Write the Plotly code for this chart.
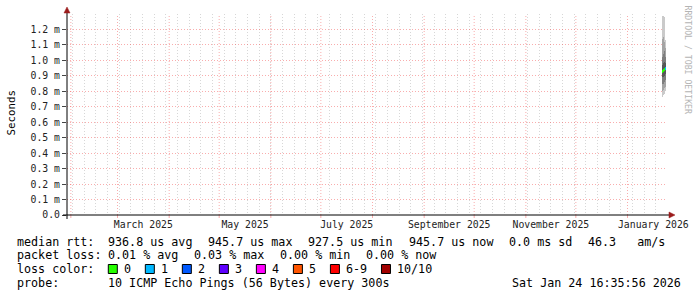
import calendar
from datetime import datetime, timedelta
import plotly.graph_objects as go

# ---------------- data ----------------
end_time = "2026-01-24 16:35:56"
span_days = 360

times = ["2026-01-21 23:45", "2026-01-22 14:10", "2026-01-23 04:35", "2026-01-23 19:00"]
pings = [
    [0.765, 0.800, 0.845, 0.890, 0.920, 0.935, 0.970, 1.020, 1.140, 1.290],
    [0.775, 0.810, 0.850, 0.895, 0.925, 0.943, 0.980, 1.040, 1.150, 1.290],
    [0.785, 0.820, 0.860, 0.900, 0.930, 0.950, 0.990, 1.060, 1.120, 1.280],
    [0.800, 0.830, 0.870, 0.910, 0.940, 0.9514, 0.980, 1.020, 1.080, 1.130],
]
median = [0.9275, 0.9340, 0.9400, 0.9457]
loss_pct = [0.0, 0.0, 0.0, 0.03]

y_ticks = [0.0, 0.1, 0.2, 0.3, 0.4, 0.5, 0.6, 0.7, 0.8, 0.9, 1.0, 1.1, 1.2]
y_tick_text = ["0.0", "0.1 m", "0.2 m", "0.3 m", "0.4 m", "0.5 m", "0.6 m",
               "0.7 m", "0.8 m", "0.9 m", "1.0 m", "1.1 m", "1.2 m"]
label_months = [(2025, 3), (2025, 5), (2025, 7), (2025, 9), (2025, 11), (2026, 1)]
label_text = ["March 2025", "May 2025", "July 2025", "September 2025",
              "November 2025", "January 2026"]

loss_thresholds = [0, 1, 2, 3, 4, 5, 9, 10]
loss_labels = ["0", "1", "2", "3", "4", "5", "6-9", "10/10"]
loss_colors = ["#26ff00", "#00b8ff", "#0059ff", "#5e00ff", "#ff00fe", "#ff5500", "#ff0000", "#a10000"]
n_pings = 10

legend_rows = [
    ["median rtt:", "936.8 us avg", "945.7 us max", "927.5 us min", "945.7 us now", "0.0 ms sd", "46.3   am/s"],
    ["packet loss:", "0.01 % avg", "0.03 % max", "0.00 % min", "0.00 % now"],
]
probe_text = ["probe:", "10 ICMP Echo Pings (56 Bytes) every 300s"]
stamp_text = "Sat Jan 24 16:35:56 2026"

# ---------------- geometry ----------------
W, H = 697, 297
L, R, T, B = 67, 30, 14, 82
PW, PH = W - L - R, H - T - B


def X(px):
    return (px - L) / PW


def Y(py):
    return (T + PH - py) / PH


t_end = datetime.strptime(end_time, "%Y-%m-%d %H:%M:%S")
t_start = t_end - timedelta(days=span_days)
ms_per_px = span_days * 86400000 / PW
bar_w = ms_per_px * 1.0

FONT = "DejaVu Sans Mono"
fig = go.Figure()

# smoke
for k in range(n_pings // 2):
    g = int(190 / (n_pings // 2) * ((n_pings // 2) - (k + 1))) + 50
    col = "#%02x%02x%02x" % (g, g, g)
    fig.add_trace(go.Bar(
        x=times,
        base=[p[k] for p in pings],
        y=[p[n_pings - 1 - k] - p[k] for p in pings],
        width=[bar_w] * len(times),
        marker=dict(color=col, line=dict(width=0)),
        hoverinfo="skip", showlegend=False,
    ))


def loss_color(pct):
    lp = pct / 100 * n_pings
    prev = -1
    for t, c in zip(loss_thresholds, loss_colors):
        if prev < lp <= t or (t == 0 and lp == 0):
            return c
        prev = t
    return loss_colors[-1]


med_h = 0.018
fig.add_trace(go.Bar(
    x=times,
    base=[m - med_h / 2 for m in median],
    y=[med_h] * len(median),
    width=[bar_w] * len(times),
    marker=dict(color=[loss_color(v) for v in loss_pct], line=dict(width=0)),
    hoverinfo="skip", showlegend=False,
))

# x axis labels at mid-month
label_pos = []
for (yy, mm) in label_months:
    nd = calendar.monthrange(yy, mm)[1]
    label_pos.append(datetime(yy, mm, 1) + timedelta(days=nd / 2))

# weekly minor grid (Sundays)
weeks = []
d = datetime(t_start.year, t_start.month, t_start.day)
while d.weekday() != 6:
    d += timedelta(days=1)
while d <= t_end:
    weeks.append(d)
    d += timedelta(days=7)

# month major grid
months = []
yy, mm = t_start.year, t_start.month
while True:
    mm += 1
    if mm > 12:
        mm, yy = 1, yy + 1
    dt = datetime(yy, mm, 1)
    if dt > t_end:
        break
    months.append(dt)

MGRID = "rgba(240,60,60,0.42)"
GRID = "rgba(150,150,150,0.38)"
AX = "#000000"
ARROW = "#9b1c1c"

shapes = []
for m in months:
    shapes.append(dict(type="line", xref="x", yref="paper", x0=m, x1=m, y0=0, y1=1,
                       line=dict(color=MGRID, width=1, dash="1px,2px"), layer="below"))
    shapes.append(dict(type="line", xref="x", yref="paper", x0=m, x1=m, y0=Y(215), y1=Y(218),
                       line=dict(color=MGRID, width=1), layer="above"))

# axis lines and arrows
shapes.append(dict(type="line", xref="paper", yref="paper", x0=X(63), x1=X(670), y0=Y(215), y1=Y(215),
                   line=dict(color=AX, width=1), layer="above"))
shapes.append(dict(type="line", xref="paper", yref="paper", x0=X(67), x1=X(67), y0=Y(219), y1=Y(10),
                   line=dict(color=AX, width=1), layer="above"))
shapes.append(dict(type="path", xref="paper", yref="paper",
                   path="M %f %f L %f %f L %f %f Z" % (X(669), Y(212), X(675), Y(215), X(669), Y(218)),
                   fillcolor=ARROW, line=dict(color=ARROW, width=0.5), layer="above"))
shapes.append(dict(type="path", xref="paper", yref="paper",
                   path="M %f %f L %f %f L %f %f Z" % (X(64), Y(13), X(67), Y(7), X(70), Y(13)),
                   fillcolor=ARROW, line=dict(color=ARROW, width=0.5), layer="above"))

annotations = []
LEG = 11.7
row_x = [[16, 107.3, 207.3, 307.3, 407.5, 507.5, 586.5],
         [16, 107.3, 193.2, 279.1, 365.0]]
row_y = [241.7, 255.0]
for r, items in enumerate(legend_rows):
    for txt, px in zip(items, row_x[r]):
        annotations.append(dict(text=txt, xref="paper", yref="paper", x=X(px - 1), y=Y(row_y[r]),
                                xanchor="left", yanchor="middle", showarrow=False,
                                font=dict(family=FONT, size=LEG, color="#000")))

# loss color row
annotations.append(dict(text="loss color:", xref="paper", yref="paper", x=X(15), y=Y(269),
                        xanchor="left", yanchor="middle", showarrow=False,
                        font=dict(family=FONT, size=LEG, color="#000")))
bx = 108.3
for lab, col in zip(loss_labels, loss_colors):
    shapes.append(dict(type="rect", xref="paper", yref="paper", x0=X(bx), x1=X(bx + 9),
                       y0=Y(264.5), y1=Y(273.5), fillcolor=col, line=dict(color="#000", width=1),
                       layer="above"))
    annotations.append(dict(text=lab, xref="paper", yref="paper", x=X(bx + 14), y=Y(269),
                            xanchor="left", yanchor="middle", showarrow=False,
                            font=dict(family=FONT, size=LEG, color="#000")))
    bx += 15 + 7.02 * len(lab) + 15.0

annotations.append(dict(text=probe_text[0], xref="paper", yref="paper", x=X(15), y=Y(282.7),
                        xanchor="left", yanchor="middle", showarrow=False,
                        font=dict(family=FONT, size=LEG, color="#000")))
annotations.append(dict(text=probe_text[1], xref="paper", yref="paper", x=X(106.3), y=Y(282.7),
                        xanchor="left", yanchor="middle", showarrow=False,
                        font=dict(family=FONT, size=LEG, color="#000")))
annotations.append(dict(text=stamp_text, xref="paper", yref="paper", x=X(682.5), y=Y(282.7),
                        xanchor="right", yanchor="middle", showarrow=False,
                        font=dict(family=FONT, size=LEG, color="#000")))

annotations.append(dict(text="Seconds", xref="paper", yref="paper", x=X(10.5), y=Y(113),
                        xanchor="center", yanchor="middle", showarrow=False, textangle=-90,
                        font=dict(family=FONT, size=10.8, color="#000")))
annotations.append(dict(text="RRDTOOL / TOBI OETIKER", xref="paper", yref="paper", x=X(688), y=Y(59.5),
                        xanchor="center", yanchor="middle", showarrow=False, textangle=90,
                        font=dict(family=FONT, size=8.2, color="#b4b4b4")))

fig.update_layout(
    width=W, height=H,
    margin=dict(l=L, r=R, t=T, b=B, pad=0, autoexpand=False),
    paper_bgcolor="#ffffff", plot_bgcolor="#ffffff",
    barmode="overlay", bargap=0,
    showlegend=False,
    font=dict(family=FONT, size=9.8, color="#222"),
    shapes=shapes, annotations=annotations,
    xaxis=dict(
        type="date", range=[t_start, t_end], fixedrange=True, automargin=False,
        tickmode="array", tickvals=label_pos, ticktext=label_text,
        showgrid=False, zeroline=False, showline=False, ticks="",
        ticklabelstandoff=2,
        tickfont=dict(family=FONT, size=9.8, color="#222"),
        minor=dict(tickmode="array", tickvals=weeks, showgrid=True,
                   gridcolor=GRID, griddash="1px,2px", gridwidth=1, ticks=""),
    ),
    yaxis=dict(
        range=[0, 1.3], fixedrange=True, automargin=False,
        tickmode="array", tickvals=y_ticks, ticktext=y_tick_text,
        showgrid=True, gridcolor=MGRID, griddash="1px,2px", gridwidth=1,
        zeroline=False, showline=False, ticks="outside", ticklen=4, tickcolor="#444",
        tickfont=dict(family=FONT, size=9.8, color="#222"),
    ),
)

fig.write_html("out.html")
